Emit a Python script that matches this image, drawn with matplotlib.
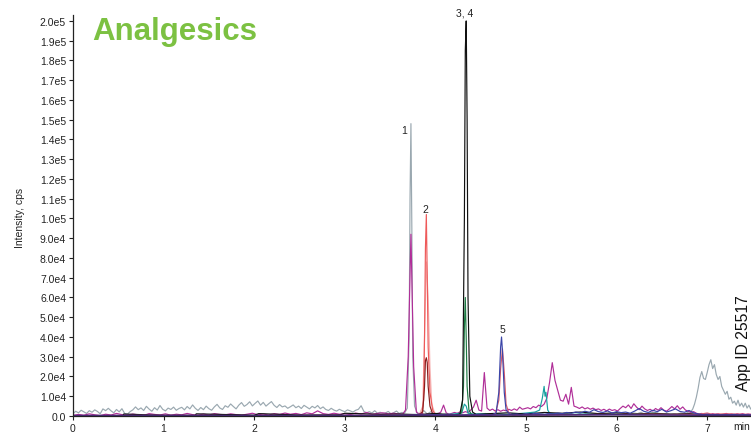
import numpy as np
import matplotlib
matplotlib.use("Agg")
import matplotlib.pyplot as plt
from matplotlib.ticker import FixedLocator

plt.rcParams['font.family'] = ['Liberation Sans', 'DejaVu Sans']

# ---------------- data (intensity in thousands of cps, time in min) ----------------
# grey trace
grey_early_t0, grey_early_step = 0.0, 0.03
grey_early = [1.2,2.4,1.6,2.9,2.1,1.3,2.7,1.9,3.1,2.3,1.1,3.6,2.7,3.9,2.6,1.6,3.3,2.1,3.7,1.3,0.9,2.2,
              3.1,4.6,3.2,4.1,2.8,4.9,3.5,2.4,4.2,3.0,5.3,3.4,2.6,4.0,3.3,4.5,2.9,3.8,4.4,3.1,4.8,3.6,5.6,3.9,2.8,4.3,3.2,5.0,3.7,2.9,
              4.6,5.9,4.1,3.3,5.2,4.4,6.1,4.8,3.6,5.5,6.8,4.9,5.8,7.2,5.1,6.4,7.6,5.5,6.9,5.0,6.2,7.3,5.4,4.3,5.8,4.6,5.1,3.9,4.7,5.6,
              4.2,5.0,3.8,5.4,4.5,3.6,4.9,4.1,5.3,3.7,4.6,3.3,2.8,3.9,3.0,2.5,3.4,2.7,2.2,3.1,
              2.6,2.0,2.9,3.4,5.2,2.4,1.6,2.2,1.5,2.7,1.4,1.9,1.2,1.6,2.3,1.1,1.7,2.5,1.3,1.8]
grey_peak_t = [3.66, 3.69, 3.71, 3.72, 3.73, 3.74, 3.75, 3.77, 3.80]
grey_peak_v = [1.5, 4, 40, 110, 148, 95, 30, 5, 1.5]
grey_mid_t0, grey_mid_step = 3.83, 0.04
grey_mid = [1.2,2.8,1.0,2.2,0.8,1.5,0.6,1.1,0.5,0.9,
            0.7,1.2,0.5,0.8,1.4,0.6,1.0,0.5,1.3,0.7,
            0.9,0.6,1.1,0.5,0.8,1.2,0.6,0.9,0.5,1.0,
            0.7,1.3,0.6,0.9,1.1,0.5,0.8,1.2,0.6,1.0,
            0.7,1.4,0.9,0.6,1.2,0.8,1.5,0.7,1.1,0.9,
            1.6,0.8,1.3,1.0,1.8,0.9,1.4,1.1,0.7,1.5,
            1.2,1.9,0.9,1.4,1.0,1.7,1.1,0.8,1.3,0.9,
            1.2,0.8,1.5,1.0,1.9]
grey_late_t0, grey_late_step = 6.82, 0.02
grey_late = [2.2,3.5,6.0,9.5,14,19.5,22.5,19,18.5,22,26,28.5,24,26,21,18.5,20,15,13,11,
             12.5,8.5,9.5,6.5,7.5,5.5,8,5,6.5,4.5,6.5,4,5.5,3.5,5]

# magenta / purple trace (peak 1 lower trace plus matrix noise)
mag_early_t0, mag_early_step = 0.0, 0.06
mag_early = [0.3,0.8,0.4,1.1,0.6,0.2,0.9,0.5,1.3,0.7,
             0.4,1.0,0.6,0.3,1.2,0.8,0.5,1.1,0.4,0.9,
             0.6,1.3,0.7,0.4,1.0,0.5,1.2,0.8,0.6,1.1,
             0.7,0.4,0.9,1.4,0.6,1.0,0.5,1.2,0.8,1.5,
             0.9,1.3,0.7,1.6,1.1,2.6,1.2,0.8,1.4,0.9,
             1.2,0.7,1.5,1.0,1.8,0.9,1.3,1.6,1.1,1.4,1.0]
mag_late_t0, mag_late_step = 3.64, 0.03
mag_late = [1.0,3,30,92,25,2,0.8,1.2,0.6,1.0,
            0.8,1.4,0.9,1.2,2.0,5.5,1.5,1.0,1.3,1.8,
            1.4,2.0,1.6,2.2,1.8,3.0,4.5,8.0,3.0,2.5,
            22,4.0,2.8,3.5,2.5,3.2,2.4,3.0,2.6,3.4,
            2.8,3.6,2.9,4.5,3.4,3.8,4.2,3.6,4.8,4.2,
            5.5,4.8,6.0,9.0,17,27,18,13,8,7.5,
            11,6,14.5,5,4.5,3.8,4.6,3.6,4.2,3.4,
            4.0,3.2,3.6,2.8,3.4,2.6,3.5,2.8,3.2,2.5,
            3.8,5.0,4.2,5.6,3.8,6.2,4.5,3.2,5.0,3.6,
            2.8,3.4,2.5,3.8,2.9,4.2,3.0,2.4,3.5,4.8,
            3.6,5.2,3.4,4.6,3.0,2.4,1.8,2.2,1.4,1.0,
            1.3,0.8,1.0,0.7,1.2,0.8,1.1,0.6,0.9,1.3,
            0.8,1.0,0.6,1.1,0.8,1.2,0.7,1.0,0.8,1.1]

# peak 2 traces
salmon_t = [3.80, 3.85, 3.87, 3.88, 3.89, 3.90, 3.91, 3.92, 3.94, 3.97, 4.00]
salmon_v = [0.3, 1, 8, 40, 85, 102, 70, 35, 12, 3, 0.5]
pink_t = [3.82, 3.86, 3.88, 3.90, 3.92, 3.94, 3.96, 4.00]
pink_v = [0.5, 5, 40, 78, 60, 25, 6, 0.5]
darkred_t = [3.80, 3.86, 3.88, 3.89, 3.90, 3.91, 3.92, 3.94, 3.97, 4.00, 4.10]
darkred_v = [0.3, 2, 15, 28, 29.5, 27, 15, 5, 1, 0.3, 0.5]

# peaks 3, 4
black_t = [0.0, 0.55, 0.56, 1.0, 1.35, 1.36, 2.0, 2.05, 2.5, 2.95, 3.0, 3.4, 3.6, 3.8, 4.0, 4.1, 4.22, 4.27, 4.30, 4.32, 4.33, 4.34, 4.35, 4.36, 4.38, 4.41, 4.45,
           4.6, 4.8, 5.0, 5.2, 5.4, 5.6, 5.8, 6.0, 6.2, 6.4, 6.6, 6.8, 7.0, 7.2, 7.5]
black_v = [0.2, 0.2, 1.0, 0.3, 0.3, 1.1, 0.4, 1.2, 0.5, 0.6, 1.4, 0.8, 1.0, 0.7, 1.3, 0.9, 0.5, 1, 8, 100, 185, 200, 150, 60, 10, 2, 0.8,
           1.2, 1.6, 1.0, 1.8, 1.4, 2.0, 1.2, 1.6, 1.0, 1.4, 0.9, 1.2, 0.6, 0.4, 0.3]
green_t = [4.26, 4.29, 4.31, 4.32, 4.33, 4.34, 4.35, 4.37, 4.40]
green_v = [0.3, 2, 15, 45, 60, 40, 15, 3, 0.5]
teal_t = [3.5, 3.8, 4.0, 4.2, 4.29, 4.32, 4.34, 4.36, 4.40, 4.6, 4.8, 5.0, 5.1, 5.15, 5.18, 5.20, 5.21, 5.22, 5.24, 5.26,
          5.3, 5.5, 5.8, 6.1, 6.4, 6.7, 7.0, 7.5]
teal_v = [0.3, 0.8, 0.5, 1.0, 1.5, 6, 5, 1.5, 1.0, 1.2, 0.8, 1.5, 2.0, 3.0, 9, 15, 10, 12, 3, 1.5,
          1.0, 0.8, 1.2, 0.9, 1.4, 0.7, 0.5, 0.6]

# peak 5
blue_peak_t = [3.6, 4.0, 4.3, 4.5, 4.62, 4.67, 4.70, 4.72, 4.73, 4.74, 4.76, 4.78, 4.82]
blue_peak_v = [0.3, 0.6, 0.4, 0.8, 0.5, 1.5, 12, 35, 40, 33, 12, 3, 1]
blue_noise_t0, blue_noise_step = 4.85, 0.05
blue_noise = [0.8,1.0,0.6,1.2,0.9,1.4,1.1,0.8,1.3,1.0,
              1.5,1.2,1.8,1.4,2.0,1.6,2.4,1.9,3.2,2.2,
              1.8,2.6,1.5,2.2,1.7,2.0,1.4,2.5,3.8,2.4,
              1.8,2.9,2.2,3.4,2.0,2.7,3.6,2.3,1.9,2.8,
              1.6,1.0,0.7,0.9,0.6,0.8,0.5,0.7,0.6,0.8,
              0.5,0.7,0.6,0.5]
red_t = [0.0, 1.0, 2.0, 3.0, 4.0, 4.5, 4.66, 4.70, 4.72, 4.74, 4.76, 4.78, 4.81, 4.85, 5.2, 5.8, 6.4, 6.9, 7.0, 7.05, 7.2, 7.5]
red_v = [0.2, 0.3, 0.2, 0.3, 0.4, 0.3, 0.8, 8, 24, 34, 22, 6, 1.5, 0.5, 0.6, 0.8, 0.9, 0.8, 1.5, 0.9, 1.1, 0.8]
navy_t = [0.0, 1.0, 2.0, 3.0, 4.0, 5.0, 6.0, 7.0, 7.5]
navy_v = [0.2, 0.3, 0.2, 0.3, 0.4, 0.5, 0.6, 0.4, 0.3]

peak_labels = ["1", "2", "3, 4", "5"]
peak_label_t = [3.65, 3.885, 4.32, 4.735]
peak_label_v = [145, 105, 204.5, 44]

yticks_k = list(range(0, 201, 10))
ytick_labels = ["0.0"] + ["%.1fe4" % (v / 10) for v in range(10, 100, 10)] + ["%.1fe5" % (v / 100) for v in range(100, 201, 10)]
xticks = [0, 1, 2, 3, 4, 5, 6, 7]


def seg(t0, step, vals):
    return [t0 + step * i for i in range(len(vals))], vals


# ---------------- figure ----------------
W, H = 751, 435
fig = plt.figure(figsize=(W / 100, H / 100), dpi=100)
ax = fig.add_axes([73 / W, 18 / H, 1 - 73 / W, (417 - 16) / H])
xmax = (W - 73) / 90.6
ax.set_xlim(0, xmax)
ax.set_ylim(0, 203)

lw = 0.85
gt = seg(grey_early_t0, grey_early_step, grey_early)
gm = seg(grey_mid_t0, grey_mid_step, grey_mid)
gl = seg(grey_late_t0, grey_late_step, grey_late)
ax.plot(gt[0] + grey_peak_t + gm[0] + gl[0], gt[1] + grey_peak_v + gm[1] + gl[1], color="#9aa8b0", lw=lw)

ax.plot(pink_t, pink_v, color="#f6b4b4", lw=lw)
ax.plot(salmon_t, salmon_v, color="#ee5a5a", lw=lw)
ax.plot(darkred_t, darkred_v, color="#8a1c1c", lw=lw)

me = seg(mag_early_t0, mag_early_step, mag_early)
ml = seg(mag_late_t0, mag_late_step, mag_late)
ax.plot(me[0] + ml[0], me[1] + ml[1], color="#b02e98", lw=lw)

ax.plot(teal_t, teal_v, color="#18a0a0", lw=lw)
ax.plot(green_t, green_v, color="#1d7a43", lw=lw)
ax.plot(black_t, black_v, color="#111111", lw=lw)
ax.plot(red_t, red_v, color="#d65a6a", lw=lw)
bn = seg(blue_noise_t0, blue_noise_step, blue_noise)
ax.plot(blue_peak_t + bn[0], blue_peak_v + bn[1], color="#3b45a8", lw=lw)
ax.plot(navy_t, navy_v, color="#4a2a78", lw=1.2)

for lab, t, v in zip(peak_labels, peak_label_t, peak_label_v):
    ax.text(t, v, lab, ha="center", va="center", fontsize=7.5, color="#222222", clip_on=False)

for s in ["top", "right"]:
    ax.spines[s].set_visible(False)
for s in ["left", "bottom"]:
    ax.spines[s].set_color("#222222")
    ax.spines[s].set_linewidth(0.9)

ax.yaxis.set_major_locator(FixedLocator(yticks_k))
ax.set_yticklabels(ytick_labels)
ax.set_xticks(xticks)
ax.set_xticklabels([str(x) for x in xticks])
ax.tick_params(axis="both", direction="out", length=3, width=0.8, color="#222222",
               labelsize=7.5, labelcolor="#222222", pad=2)

ax.text(7.29, -0.012, "min", transform=ax.get_xaxis_transform(), ha="left", va="top",
        fontsize=7.5, color="#222222")
fig.text(20 / W, 1 - 218 / H, "Intensity, cps", rotation=90, ha="center", va="center",
         fontsize=7.5, color="#222222")
fig.text(92 / W, 1 - 40 / H, "Analgesics", ha="left", va="baseline", fontsize=22.5,
         fontweight="bold", color="#7cc142")
fig.text(736 / W, 1 - 391 / H, "App ID 25517", rotation=90, ha="left", va="bottom",
         fontsize=11.3, color="#111111")

fig.savefig("out.png", dpi=100)
